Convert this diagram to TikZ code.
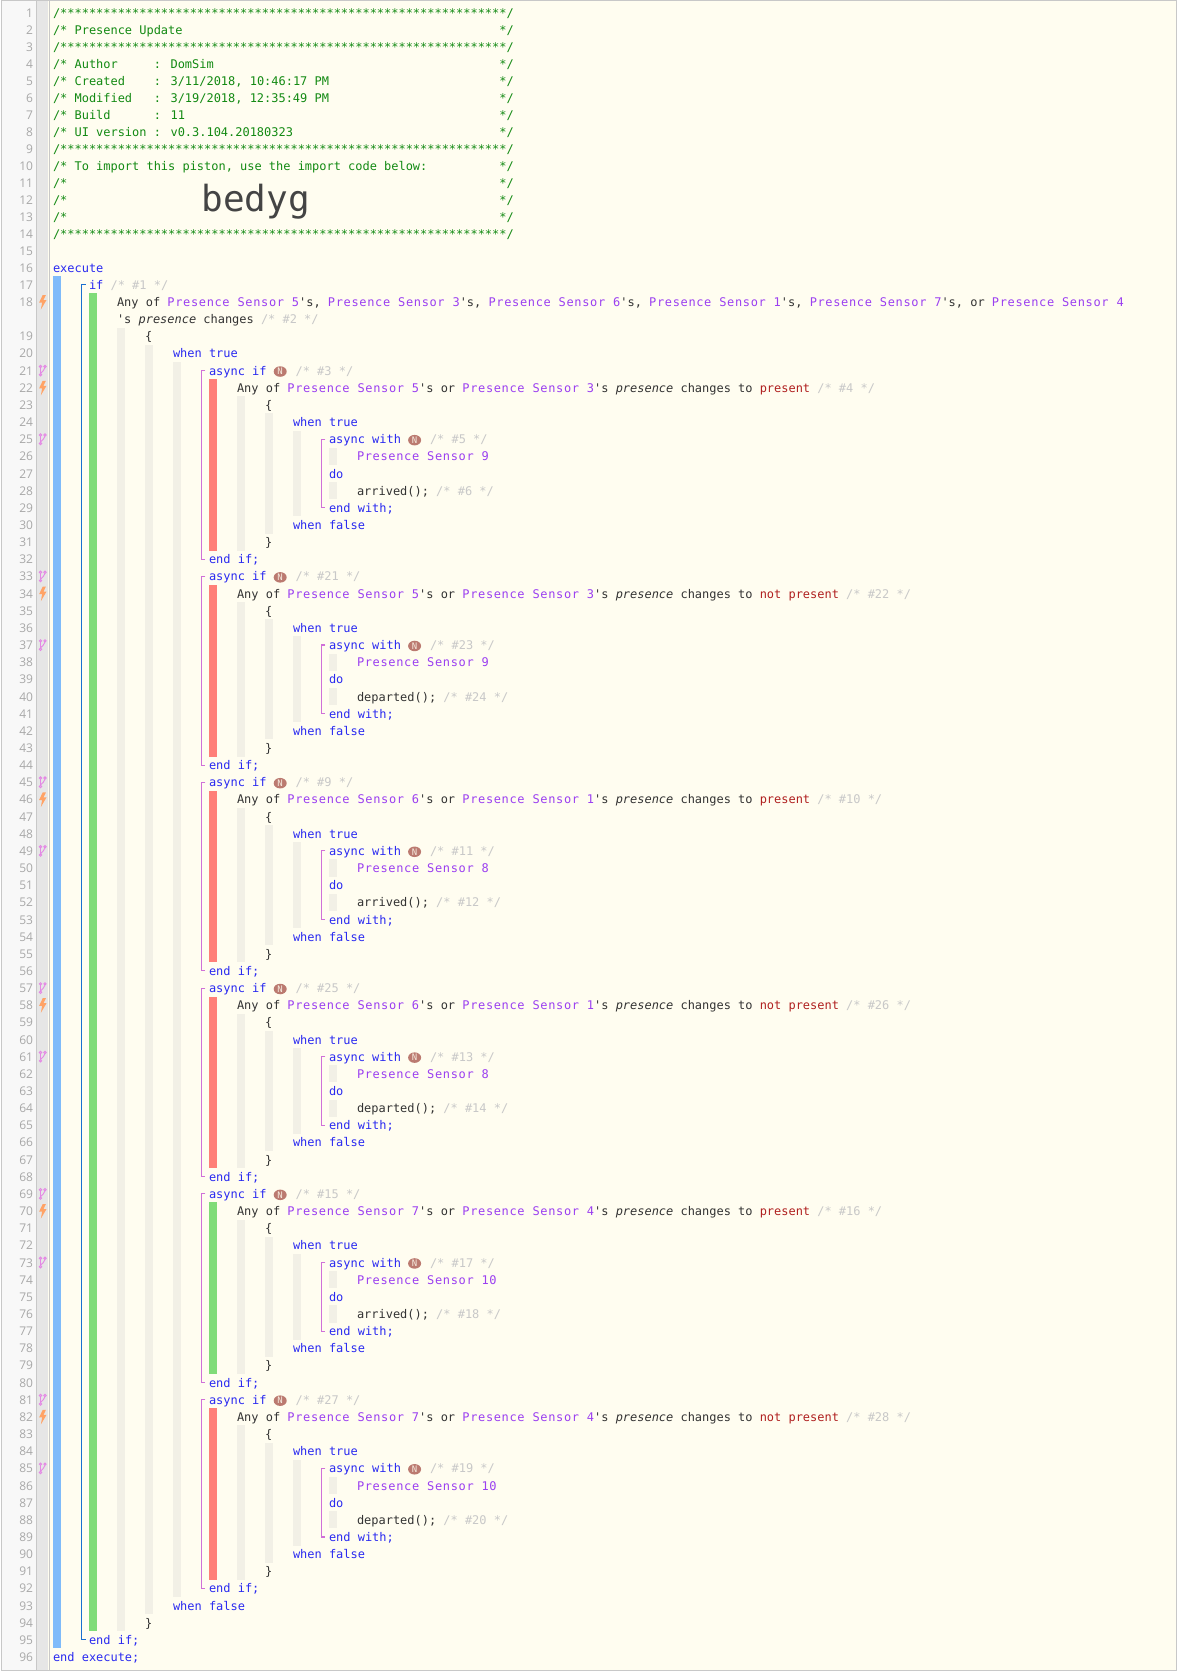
\documentclass[tikz,border=0pt]{standalone}
\usepackage{fontspec}
\usetikzlibrary{shapes.geometric}
\newfontfamily\codefont{DejaVu Sans Mono}
\newfontfamily\sensorfont[LetterSpace=5.6]{DejaVu Sans Mono}
\newfontfamily\numfont{Open Sans}
\definecolor{paper}{HTML}{FFFDF0}
\definecolor{edge}{HTML}{C8C8C8}
\definecolor{gutterA}{HTML}{F8F8F8}
\definecolor{gutterB}{HTML}{E6E6E6}
\definecolor{numgray}{HTML}{A8A8A8}
\definecolor{barblue}{HTML}{7FBBFA}
\definecolor{bargreen}{HTML}{80DC78}
\definecolor{barred}{HTML}{FF7F78}
\definecolor{barbeige}{HTML}{F2F0E6}
\definecolor{lineblue}{HTML}{1A6FD0}
\definecolor{linepink}{HTML}{D070D8}
\definecolor{iconpink}{HTML}{E488E4}
\definecolor{iconorange}{HTML}{FFA366}
\definecolor{sensorpurple}{HTML}{9B3FF0}
\definecolor{keyblue}{HTML}{2A2AF0}
\definecolor{hdrgreen}{HTML}{138A13}
\definecolor{cmtgray}{HTML}{C8C8C8}
\definecolor{valred}{HTML}{B02020}
\definecolor{plaintext}{HTML}{333333}
\definecolor{codegray}{HTML}{444444}
\definecolor{badgefill}{HTML}{BB7A70}
\newcommand{\sensor}[1]{{\color{sensorpurple}\sensorfont Presence Sensor #1}}
\newcommand{\cmt}[1]{{\color{cmtgray}/* \##1 */}}
\newcommand{\val}[1]{{\color{valred}#1}}
\newcommand{\guide}[3]{\fill[barbeige] (#1,#2) rectangle (#1+8,#3);}
\tikzset{
    codeline/.style={anchor=base west,inner sep=0pt,outer sep=0pt,text=plaintext,
        font=\fontsize{11.96}{14}\selectfont\codefont},
    keyline/.style={codeline,text=keyblue},
    hdrline/.style={codeline,text=hdrgreen},
    numline/.style={anchor=base east,inner sep=0pt,outer sep=0pt,text=numgray,
        font=\fontsize{12}{14}\selectfont\numfont},
    badge/.style={ellipse,fill=badgefill,inner sep=0pt,minimum width=13pt,minimum height=10.5pt,
        text=paper!85!badgefill,font=\fontsize{9}{10}\selectfont\codefont},
    pics/forkicon/.style={code={
        \draw[iconpink,line width=0.9pt] (-2.2pt,4.2pt) circle (1.2pt) (2.3pt,4.2pt) circle (1.2pt)
            (-2.2pt,-4.2pt) circle (1.2pt) (-2.2pt,3pt) -- (-2.2pt,-3pt)
            (2.3pt,3pt) .. controls (2.3pt,-0.5pt) and (-1pt,0pt) .. (-2.2pt,-2.8pt);
    }},
    pics/bolticon/.style={code={
        \fill[iconorange] (0pt,7pt) -- (-3.6pt,-0.6pt) -- (-0.6pt,-0.6pt) -- (-1.8pt,-7.5pt)
            -- (3.8pt,2pt) -- (0.8pt,2pt) -- (3.2pt,7pt) -- cycle;
    }},
}
\begin{document}
\begin{tikzpicture}[x=1pt,y=-17.152pt]
    \useasboundingbox (0pt,0pt) rectangle (1178pt,-1679pt);
    \fill[white] (0pt,0pt) rectangle (1178pt,-1679pt);
    %% panel and gutter
    \fill[paper] (1pt,-0.7pt) rectangle (1176.6pt,-1670.5pt);
    \fill[gutterA] (1pt,-0.7pt) rectangle (36.4pt,-1670.5pt);
    \fill[gutterB] (36.4pt,-0.7pt) rectangle (48.3pt,-1670.5pt);
    \draw[edge] (36.4pt,-0.7pt) -- (36.4pt,-1670.5pt);
    \draw[edge] (48.8pt,-0.7pt) -- (48.8pt,-1670.5pt);
    \draw[edge,line width=1pt] (1pt,-0.7pt) rectangle (1176.6pt,-1670.5pt);
    \begin{scope}[yshift=-4.2pt,y=-17pt]
    %% header, rows a little tighter
    \foreach \n in {1,...,16}{
        \pgfmathtruncatemacro{\r}{\n-1}
        \node[numline] (num\n) at (33,\r+.764) {\n};
    }
    \node[hdrline] (hdrA) at (53,0.764) {/**************************************************************/};
    \node[hdrline] (hdrB) at (53,1.764) {/* Presence Update};
    \node[hdrline] (hdrC) at (53,2.764) {/**************************************************************/};
    \node[hdrline] (hdrD) at (53,3.764) {/* Author~~~~~: DomSim};
    \node[hdrline] (hdrE) at (53,4.764) {/* Created~~~~: 3/11/2018, 10:46:17 PM};
    \node[hdrline] (hdrF) at (53,5.764) {/* Modified~~~: 3/19/2018, 12:35:49 PM};
    \node[hdrline] (hdrG) at (53,6.764) {/* Build~~~~~~: 11};
    \node[hdrline] (hdrH) at (53,7.764) {/* UI version : v0.3.104.20180323};
    \node[hdrline] (hdrI) at (53,8.764) {/**************************************************************/};
    \node[hdrline] (hdrJ) at (53,9.764) {/* To import this piston, use the import code below:};
    \node[hdrline] (hdrK) at (53,10.764) {/*};
    \node[hdrline] (hdrL) at (53,11.764) {/*};
    \node[hdrline] (hdrM) at (53,12.764) {/*};
    \node[hdrline] (hdrN) at (53,13.764) {/**************************************************************/};
    \foreach \r in {1,3,4,5,6,7,9,10,11,12}
        \node[hdrline] (hdrend\r) at (499.4,\r+.764) {*/};
    \node[codeline,text=codegray,font=\fontsize{36}{40}\selectfont\codefont] (code) at (201.5,12.21) {bedyg};
    \node[keyline] (exec) at (53,15.764) {execute};
    \end{scope}
    \begin{scope}[yshift=-1.84pt]
    %% line numbers
    \foreach \n in {17,...,96}{
        \pgfmathtruncatemacro{\r}{\n>18 ? \n : \n-1}
        \node[numline] (num\n) at (33,\r+.764) {\n};
    }
    %% gutter marks
    \foreach \r in {21,25,33,37,45,49,57,61,69,73,81,85}
        \pic at (42.7,\r+.5) {forkicon};
    \foreach \r in {17,22,34,46,58,70,82}
        \pic at (42.7,\r+.5) {bolticon};
    %% outer bars
    \fill[barblue] (53,16) rectangle (61,96);
    \fill[bargreen] (89,17) rectangle (97,95);
    \guide{117}{19}{95}
    \guide{145}{20}{94}
    \guide{173}{21}{93}
    \draw[lineblue,line width=1.2pt] (85.5,16.5) -- (81.5,16.5) -- (81.5,95.5) -- (85.5,95.5);
    %% outer code
    \node[keyline] (ifhead) at (89,16.764) {if \cmt{1}};
    \node[codeline] (ifcondA) at (117,17.764) {Any of \sensor{5}'s, \sensor{3}'s, \sensor{6}'s, \sensor{1}'s, \sensor{7}'s, or \sensor{4}};
    \node[codeline] (ifcondB) at (117,18.764) {'s \textit{presence} changes \cmt{2}};
    \node[codeline] (opening) at (145,19.764) {\{};
    \node[keyline] (whentrue) at (173,20.764) {when true};
    \node[keyline] (whenfalse) at (173,93.764) {when false};
    \node[codeline] (closing) at (145,94.764) {\}};
    \node[keyline] (ifend) at (89,95.764) {end if;};
    \node[keyline] (execend) at (53,96.764) {end execute;};
    %% async blocks
    \foreach \lno/\idif/\idcond/\senA/\senB/\state/\barcol/\idwith/\senT/\act/\idact in {
        21/3/4/5/3/present/barred/5/9/arrived/6,
        33/21/22/5/3/not present/barred/23/9/departed/24,
        45/9/10/6/1/present/barred/11/8/arrived/12,
        57/25/26/6/1/not present/barred/13/8/departed/14,
        69/15/16/7/4/present/bargreen/17/10/arrived/18,
        81/27/28/7/4/not present/barred/19/10/departed/20}{
        \fill[\barcol] (209,\lno+1) rectangle (217,\lno+11);
        \guide{237}{\lno+2}{\lno+11}
        \guide{265}{\lno+3}{\lno+10}
        \guide{293}{\lno+4}{\lno+9}
        \guide{329}{\lno+5}{\lno+6}
        \guide{329}{\lno+7}{\lno+8}
        \draw[linepink,line width=1.1pt] (205.3,\lno+.5) -- (201.3,\lno+.5) -- (201.3,\lno+11.5) -- (205.3,\lno+11.5);
        \draw[linepink,line width=1.1pt] (325.3,\lno+4.5) -- (321.3,\lno+4.5) -- (321.3,\lno+8.5) -- (325.3,\lno+8.5);
        \node[keyline] (ahead\lno) at (209,\lno+.764) {async if};
        \node[badge] (abadge\lno) at ([xshift=13.6pt,yshift=3.6pt]ahead\lno.base east) {N};
        \node[codeline] (acmt\lno) at ([xshift=29pt]ahead\lno.base east) {\cmt{\idif}};
        \node[codeline] (acond\lno) at (237,\lno+1.764) {Any of \sensor{\senA}'s or \sensor{\senB}'s \textit{presence} changes to \val{\state} \cmt{\idcond}};
        \node[codeline] (aopen\lno) at (265,\lno+2.764) {\{};
        \node[keyline] (atrue\lno) at (293,\lno+3.764) {when true};
        \node[keyline] (whead\lno) at (329,\lno+4.764) {async with};
        \node[badge] (wbadge\lno) at ([xshift=13.6pt,yshift=3.6pt]whead\lno.base east) {N};
        \node[codeline] (wcmt\lno) at ([xshift=29pt]whead\lno.base east) {\cmt{\idwith}};
        \node[codeline] (wsen\lno) at (357,\lno+5.764) {\sensor{\senT}};
        \node[keyline] (wdo\lno) at (329,\lno+6.764) {do};
        \node[codeline] (wact\lno) at (357,\lno+7.764) {\act(); \cmt{\idact}};
        \node[keyline] (wend\lno) at (329,\lno+8.764) {end with;};
        \node[keyline] (afalse\lno) at (293,\lno+9.764) {when false};
        \node[codeline] (aclose\lno) at (265,\lno+10.764) {\}};
        \node[keyline] (aend\lno) at (209,\lno+11.764) {end if;};
    }
    \end{scope}
\end{tikzpicture}
\end{document}
